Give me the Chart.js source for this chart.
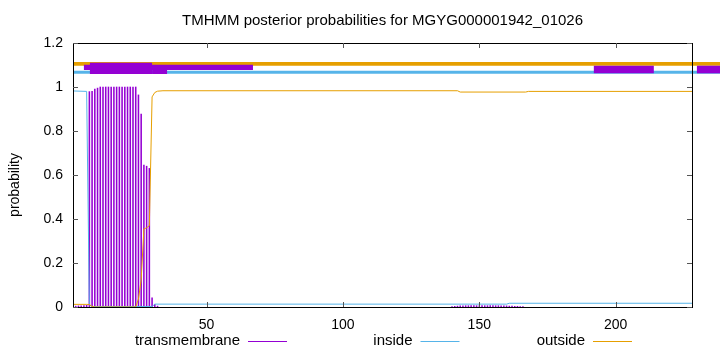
<!DOCTYPE html>
<html>
<head>
<meta charset="utf-8">
<script src="https://cdn.jsdelivr.net/npm/chart.js@4/dist/chart.umd.min.js"></script>
<style>
html,body{margin:0;padding:0;background:#fff;}
#wrap{width:720px;height:352px;position:relative;}
</style>
</head>
<body>
<div id="wrap"><canvas id="c"></canvas></div>
<script>
// ---------------- data ----------------
const titleText = 'TMHMM posterior probabilities for MGYG000001942_01026';
const yAxisTitle = 'probability';
const seriesNames = ['transmembrane', 'inside', 'outside'];
const xMin = 1, xMax = 228;
const xTicks = [50, 100, 150, 200];
const yTicks = [0, 0.2, 0.4, 0.6, 0.8, 1, 1.2];

// transmembrane posterior (impulses), per residue
const tmResidues = [1,2,3,4,5,6,7,8,9,10,11,12,13,14,15,16,17,18,19,20,21,22,23,24,25,26,27,28,29,30,31,32,
  140,141,142,143,144,145,146,147,148,149,150,151,152,153,154,155,156,157,158,159,160,161,162,163,164,165,166];
const tmValues = [0.004,0.004,0.005,0.005,0.006,0.008,0.979,0.98,0.99,0.995,1,1,1,1,1,1,1,1,1,1,1,1,1,1,
  0.964,0.877,0.645,0.64,0.63,0.042,0.012,0.004,
  0.002,0.003,0.004,0.005,0.005,0.006,0.006,0.006,0.006,0.006,0.006,0.006,0.006,0.006,0.006,0.006,0.006,0.006,
  0.005,0.005,0.005,0.004,0.004,0.003,0.003,0.002,0.002];

// inside posterior (line)
const insideX = [1, 6, 7, 8, 30, 31, 160, 161, 228];
const insideY = [0.982, 0.98, 0.01, 0.002, 0.002, 0.013, 0.013, 0.017, 0.017];

// outside posterior (line)
const outsideX = [1, 6, 7, 8, 9, 24, 25, 26, 27, 28, 29, 30, 31, 32, 34, 142, 143, 167, 168, 228];
const outsideY = [0.012, 0.012, 0.011, 0.003, 0, 0, 0.036, 0.123, 0.355, 0.36, 0.37, 0.955, 0.975, 0.981, 0.983, 0.983, 0.977, 0.977, 0.98, 0.98];

// topology track above the curves
const outsideBandX = [1, 238.3];
const outsideBandLevel = 1.105;
const insideBandX = [1, 238.3];
const insideBandLevel = 1.067;
const helixStart = [5.0, 7.2, 30.0, 192.0, 229.8];
const helixEnd   = [67.0, 30.0, 35.5, 214.0, 238.3];
const helixLevel = [1.089, 1.085, 1.078, 1.0795, 1.0795];

// ---------------- styles ----------------
const C_TM = 'rgb(148,0,211)';
const C_IN = 'rgb(86,180,233)';
const C_OUT = 'rgb(230,159,0)';
const FONT = "'Liberation Sans', Arial, sans-serif";
const FS = 14;
const FS_BIG = 15;
const helixWidths = [5.3, 11.3, 8.3, 7.6, 7.6];

function seg(x0, x1, y) { return [{x: x0, y: y}, {x: x1, y: y}]; }

const datasets = [];
helixStart.forEach((s, i) => {
  datasets.push({
    type: 'line', label: 'helix' + i, data: seg(s, helixEnd[i], helixLevel[i]),
    borderColor: C_TM, borderWidth: helixWidths[i], borderCapStyle: 'butt',
    pointRadius: 0, clip: false, order: 1
  });
});
datasets.push({
  type: 'line', label: 'insideBand', data: seg(insideBandX[0], insideBandX[1], insideBandLevel),
  borderColor: C_IN, borderWidth: 3, borderCapStyle: 'butt', pointRadius: 0, clip: false, order: 3
});
datasets.push({
  type: 'line', label: 'outsideBand', data: seg(outsideBandX[0], outsideBandX[1], outsideBandLevel),
  borderColor: C_OUT, borderWidth: 3.6, borderCapStyle: 'butt', pointRadius: 0, clip: false, order: 3
});
datasets.push({
  type: 'bar', label: seriesNames[0],
  data: tmResidues.map((r, i) => ({x: r, y: tmValues[i]})),
  backgroundColor: C_TM, borderWidth: 0, barThickness: 0.9, order: 6
});
datasets.push({
  type: 'line', label: seriesNames[1],
  data: insideX.map((v, i) => ({x: v, y: insideY[i]})),
  borderColor: C_IN, borderWidth: 1, pointRadius: 0, tension: 0, order: 5
});
datasets.push({
  type: 'line', label: seriesNames[2],
  data: outsideX.map((v, i) => ({x: v, y: outsideY[i]})),
  borderColor: C_OUT, borderWidth: 1, pointRadius: 0, tension: 0, order: 4
});

const frame = {
  id: 'frame',
  afterDatasetsDraw(chart) {
    const {ctx, chartArea: a, scales} = chart;
    const x = scales.x, y = scales.y;
    ctx.save();
    ctx.lineWidth = 1;
    ctx.strokeStyle = '#000';
    ctx.strokeRect(Math.round(a.left) + 0.5, Math.round(a.top) + 0.5,
      Math.round(a.right - a.left), Math.round(a.bottom - a.top));
    ctx.strokeStyle = '#555';
    const tl = 5;
    ctx.beginPath();
    yTicks.forEach(v => {
      const py = Math.round(y.getPixelForValue(v)) + 0.5;
      ctx.moveTo(a.left, py); ctx.lineTo(a.left + tl, py);
      ctx.moveTo(a.right, py); ctx.lineTo(a.right - tl, py);
    });
    xTicks.forEach(v => {
      const px = Math.round(x.getPixelForValue(v)) + 0.5;
      ctx.moveTo(px, a.bottom); ctx.lineTo(px, a.bottom - tl);
      ctx.moveTo(px, a.top); ctx.lineTo(px, a.top + tl);
    });
    ctx.stroke();
    ctx.restore();
  },
  afterDraw(chart) {
    const {ctx, chartArea: a} = chart;
    const colors = [C_TM, C_IN, C_OUT];
    ctx.save();
    // y-axis title
    ctx.font = FS + 'px ' + FONT;
    ctx.fillStyle = '#000';
    ctx.textAlign = 'center';
    ctx.textBaseline = 'middle';
    ctx.translate(15, (a.top + a.bottom) / 2 + 10);
    ctx.rotate(-Math.PI / 2);
    ctx.fillText(yAxisTitle, 0, 0);
    ctx.restore();
    // legend
    ctx.save();
    ctx.font = FS_BIG + 'px ' + FONT;
    ctx.fillStyle = '#000';
    ctx.textAlign = 'right';
    ctx.textBaseline = 'middle';
    const ly = 341;
    seriesNames.forEach((n, i) => {
      const xr = 240 + i * 172.5;
      ctx.fillText(n, xr, ly);
      ctx.strokeStyle = colors[i];
      ctx.lineWidth = 1;
      ctx.beginPath();
      ctx.moveTo(xr + 8, Math.round(ly) + 0.5);
      ctx.lineTo(xr + 47, Math.round(ly) + 0.5);
      ctx.stroke();
    });
    ctx.restore();
  }
};

new Chart(document.getElementById('c'), {
  type: 'line',
  data: {datasets: datasets},
  plugins: [frame],
  options: {
    responsive: true,
    maintainAspectRatio: false,
    animation: false,
    events: [],
    layout: {padding: {left: 0, right: 28, top: 0, bottom: 0}},
    plugins: {
      legend: {display: false},
      tooltip: {enabled: false},
      title: {
        display: true, text: titleText, fullSize: false, color: '#000',
        font: {family: FONT, size: FS_BIG, weight: 'normal', lineHeight: 1.2},
        padding: {top: 12, bottom: 13}
      }
    },
    scales: {
      x: {
        type: 'linear', bounds: 'data', offset: false,
        afterDataLimits(s) { s.min = xMin; s.max = xMax; },
        afterBuildTicks(s) { s.ticks = xTicks.map(v => ({value: v})); },
        afterFit(s) { s.height = 45; },
        grid: {display: false, drawTicks: false, offset: false},
        border: {display: false},
        ticks: {color: '#000', padding: 10, maxRotation: 0, autoSkip: false,
          font: {family: FONT, size: FS}, callback: v => String(v)}
      },
      y: {
        type: 'linear', min: 0, max: 1.2,
        afterBuildTicks(s) { s.ticks = yTicks.map(v => ({value: v})); },
        afterFit(s) { s.width = 73; },
        grid: {display: false, drawTicks: false},
        border: {display: false},
        ticks: {color: '#000', padding: 10, autoSkip: false,
          font: {family: FONT, size: FS}, callback: v => String(Math.round(v * 10) / 10)}
      }
    }
  }
});
</script>
</body>
</html>
